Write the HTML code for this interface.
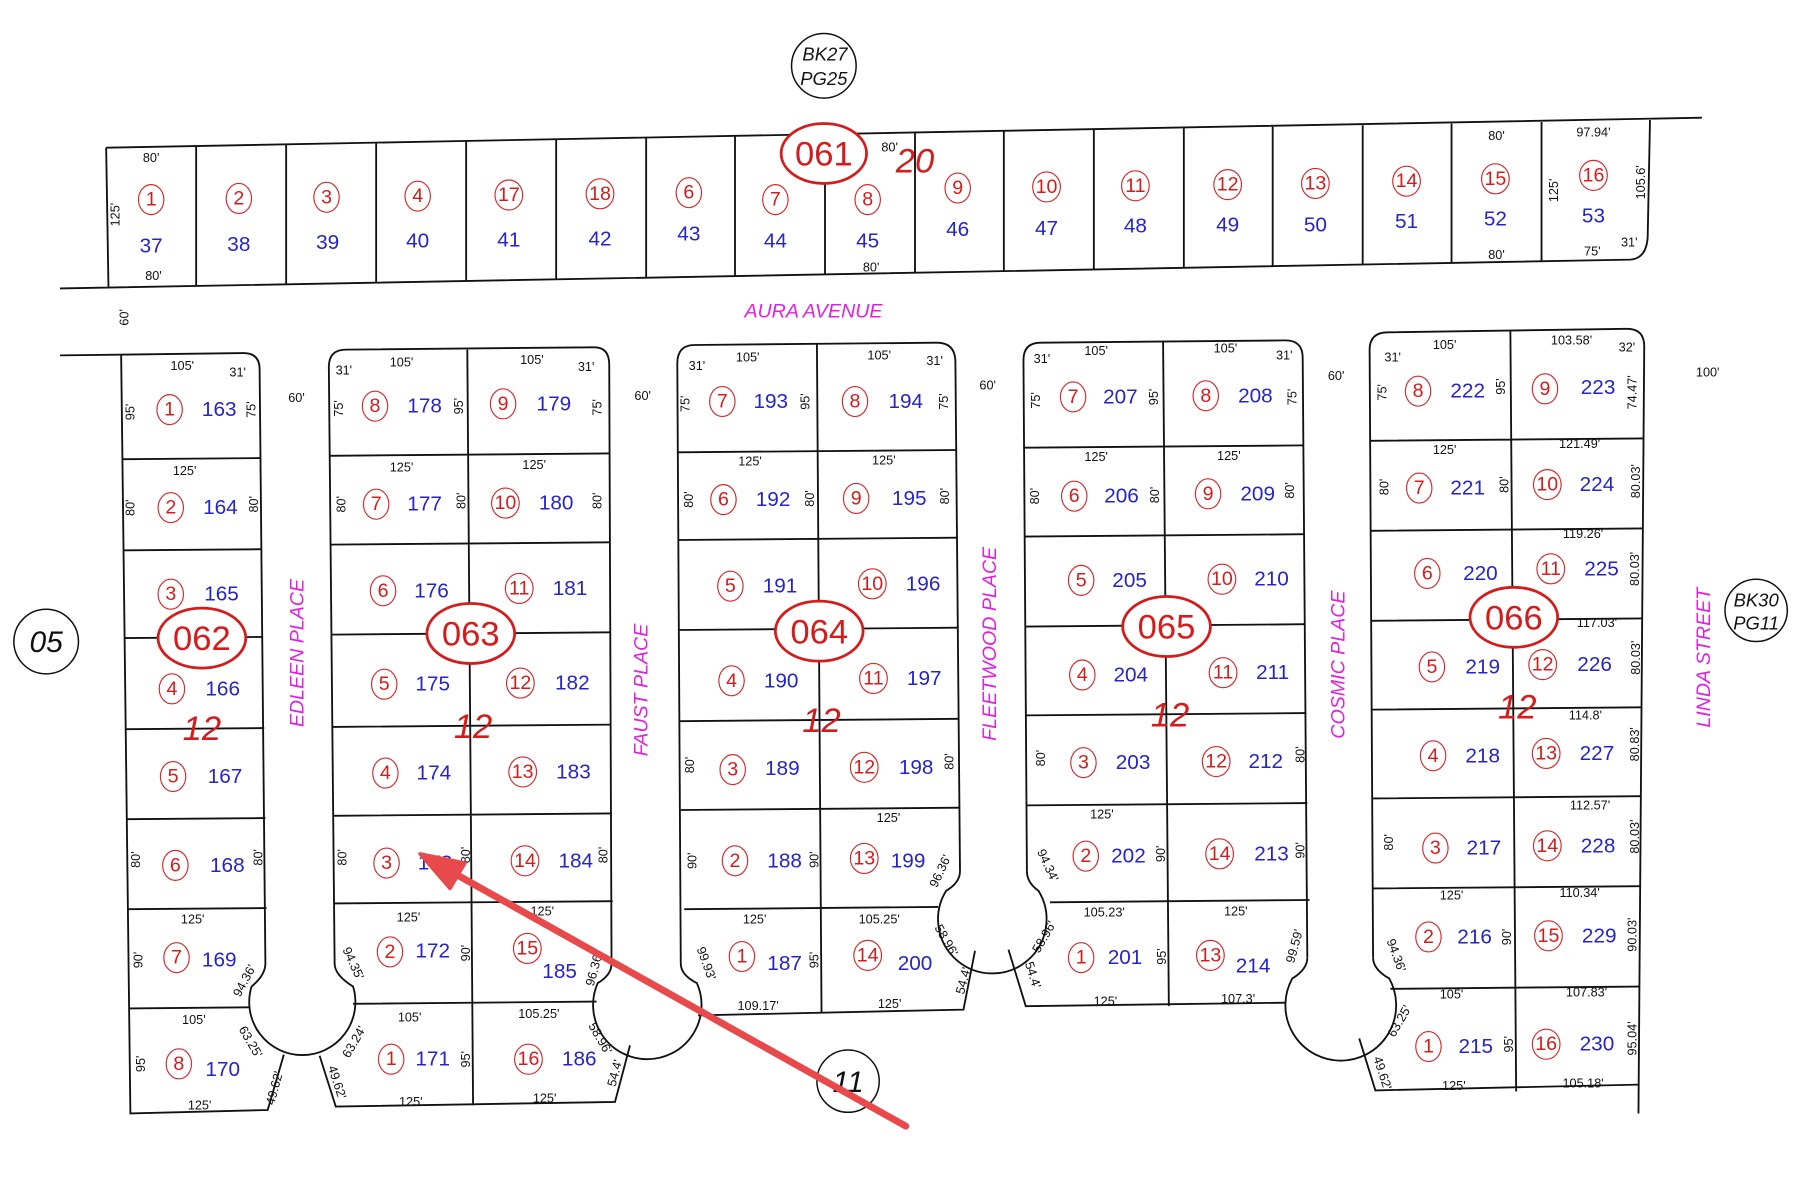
<!DOCTYPE html>
<html><head><meta charset="utf-8"><style>
html,body{margin:0;padding:0;background:#fff;}
svg{display:block}
text{font-family:"Liberation Sans",sans-serif;}
.l{fill:none;stroke:#111;stroke-width:1.6}
.c{fill:none;stroke:#d42a2a;stroke-width:1}
.r{fill:#d41c1c;font-size:17px;text-anchor:middle;dominant-baseline:central}
.b{fill:#2424c8;font-size:18px;text-anchor:middle;dominant-baseline:central}
.d{fill:#111;font-size:11px;text-anchor:middle;dominant-baseline:central}
.s{fill:#e020e0;font-size:17px;font-style:italic;text-anchor:middle;dominant-baseline:central}
.big{fill:#d41c1c;font-size:30px;text-anchor:middle;dominant-baseline:central}
.bc{fill:#fff;stroke:#d41c1c;stroke-width:2.4}
.tw{fill:#d41c1c;font-size:30px;font-style:italic;text-anchor:middle;dominant-baseline:central}
.k{fill:none;stroke:#111;stroke-width:1.3}
.kt{fill:#111;font-size:16px;font-style:italic;text-anchor:middle;dominant-baseline:central}
</style></head><body>
<svg width="1800" height="1200" viewBox="0 0 1560 1040" preserveAspectRatio="none" xmlns="http://www.w3.org/2000/svg">
<!-- top strip -->
<path class="l" d="M92,128 L1475,102 M52,250 L1413,225 Q1427,224 1428,205 L1430,104 M92,128 L94,249"/>
<path class="l" d="M170,126.6L170,247.9 M248,125.2L248,246.4 M326,123.8L326,245 M404,122.4L404,243.6 M482,121L482,242.2 M560,119.6L560,240.8 M637,118.2L637,239.4 M715,116.8L715,238 M793,115.4L793,236.5 M870,114L870,235.1 M948,112.6L948,233.7 M1026,111.2L1026,232.3 M1103,109.9L1103,230.9 M1181,108.5L1181,229.5 M1258,107.1L1258,228.1 M1336,105.7L1336,226.7"/>
<g>
<ellipse class="c" cx="131" cy="173" rx="11" ry="13"/><text class="r" x="131" y="173">1</text><text class="b" x="131" y="213">37</text>
<ellipse class="c" cx="207" cy="172" rx="11" ry="13"/><text class="r" x="207" y="172">2</text><text class="b" x="207" y="212">38</text>
<ellipse class="c" cx="283" cy="171" rx="11" ry="13"/><text class="r" x="283" y="171">3</text><text class="b" x="284" y="210">39</text>
<ellipse class="c" cx="362" cy="170" rx="11" ry="13"/><text class="r" x="362" y="170">4</text><text class="b" x="362" y="209">40</text>
<ellipse class="c" cx="441" cy="169" rx="12" ry="13"/><text class="r" x="441" y="169">17</text><text class="b" x="441" y="208">41</text>
<ellipse class="c" cx="520" cy="168" rx="12" ry="13"/><text class="r" x="520" y="168">18</text><text class="b" x="520" y="207">42</text>
<ellipse class="c" cx="597" cy="167" rx="11" ry="13"/><text class="r" x="597" y="167">6</text><text class="b" x="597" y="203">43</text>
<ellipse class="c" cx="672" cy="173" rx="11" ry="13"/><text class="r" x="672" y="173">7</text><text class="b" x="672" y="209">44</text>
<ellipse class="c" cx="752" cy="173" rx="11" ry="13"/><text class="r" x="752" y="173">8</text><text class="b" x="752" y="209">45</text>
<ellipse class="c" cx="830" cy="163" rx="11" ry="13"/><text class="r" x="830" y="163">9</text><text class="b" x="830" y="199">46</text>
<ellipse class="c" cx="907" cy="162" rx="12" ry="13"/><text class="r" x="907" y="162">10</text><text class="b" x="907" y="198">47</text>
<ellipse class="c" cx="984" cy="161" rx="12" ry="13"/><text class="r" x="984" y="161">11</text><text class="b" x="984" y="196">48</text>
<ellipse class="c" cx="1064" cy="160" rx="12" ry="13"/><text class="r" x="1064" y="160">12</text><text class="b" x="1064" y="195">49</text>
<ellipse class="c" cx="1140" cy="159" rx="12" ry="13"/><text class="r" x="1140" y="159">13</text><text class="b" x="1140" y="195">50</text>
<ellipse class="c" cx="1219" cy="157" rx="12" ry="13"/><text class="r" x="1219" y="157">14</text><text class="b" x="1219" y="192">51</text>
<ellipse class="c" cx="1296" cy="155" rx="12" ry="13"/><text class="r" x="1296" y="155">15</text><text class="b" x="1296" y="190">52</text>
<ellipse class="c" cx="1381" cy="152" rx="12" ry="13"/><text class="r" x="1381" y="152">16</text><text class="b" x="1381" y="187">53</text>
</g>
<text class="d" x="131" y="137">80'</text><text class="d" x="133" y="239">80'</text>
<text class="d" transform="translate(100,186) rotate(-90)">125'</text>
<text class="d" x="771" y="128">80'</text><text class="d" x="755" y="232">80'</text>
<text class="d" x="1297" y="118">80'</text><text class="d" x="1297" y="221">80'</text>
<text class="d" x="1381" y="115">97.94'</text>
<text class="d" transform="translate(1347,165) rotate(-90)">125'</text>
<text class="d" transform="translate(1422,158) rotate(-90)">105.6'</text>
<text class="d" x="1380" y="218">75'</text><text class="d" x="1412" y="210">31'</text>
<ellipse class="bc" cx="714" cy="133" rx="37" ry="26"/><text class="big" x="714" y="134">061</text>
<text class="tw" x="793" y="140">20</text>
<circle class="k" cx="714" cy="57" r="28"/><text class="kt" x="715" y="47">BK27</text><text class="kt" x="714" y="68">PG25</text>

<text class="s" x="705" y="270">AURA AVENUE</text>
<text class="d" transform="translate(108,275) rotate(-90)">60'</text>

<!-- blocks -->
<path class="l" d="M52,308 L211,306 Q225,306 225,320 L230,835 M105,308 L113,965 L232,962 L246,914"/>
<path class="l" d="M230,835 Q230,845 218,855 A46,46 0 1 0 306,855 Q290,845 290,835"/>
<path class="l" d="M106,398L226,397 M107,477L227,476 M108,553L228,552 M109,632L229,631 M110,710L230,709 M111,788L231,787 M112,874L216,873"/>

<path class="l" d="M290,835 L285,318 Q285,303 300,303 L515,301 Q528,301 528,316 L530,835"/>
<path class="l" d="M530,835 Q530,845 518,852 A47,47 0 1 0 604,852 Q590,845 590,835"/>
<path class="l" d="M405,303 L410,958 M286,395L528,393 M286,472L529,470 M287,550L529,548 M288,630L530,628 M289,707L530,705 M290,783L531,781 M306,870L517,868 M277,915 L291,959 L533,955 L546,906"/>

<path class="l" d="M590,835 L587,315 Q587,299 602,299 L812,297 Q827,297 828,312 L832,755"/>
<path class="l" d="M832,755 Q832,765 820,772 A47,47 0 1 0 900,772 Q890,765 890,755"/>
<path class="l" d="M708,298 L712,878 M588,392L829,390 M588,468L830,466 M589,546L830,544 M589,625L831,623 M590,702L832,700 M593,788L813,786 M605,880 L835,875 L845,824"/>

<path class="l" d="M890,755 L887,312 Q887,297 902,297 L1114,295 Q1129,295 1129,310 L1133,830"/>
<path class="l" d="M1133,830 Q1133,840 1120,848 A48,48 0 1 0 1204,848 Q1190,840 1190,830"/>
<path class="l" d="M1008,296 L1013,872 M888,388L1130,386 M888,465L1131,463 M889,543L1131,541 M889,620L1132,618 M890,698L1133,696 M910,782L1135,780 M874,823 L889,872 L1114,869"/>

<path class="l" d="M1190,830 L1187,303 Q1187,288 1203,288 L1410,285 Q1425,285 1425,300 L1420,965"/>
<path class="l" d="M1309,287 L1314,946 M1188,382L1424,380 M1188,460L1424,458 M1189,538L1423,536 M1189,615L1423,613 M1190,692L1422,690 M1190,770L1422,768 M1205,857L1421,855 M1178,900 L1192,945 L1420,940"/>

<!-- street labels -->
<text class="d" x="257" y="345">60'</text><text class="d" x="557" y="343">60'</text>
<text class="d" x="856" y="334">60'</text><text class="d" x="1158" y="326">60'</text><text class="d" x="1480" y="323">100'</text>
<text class="s" transform="translate(258,566) rotate(-90)">EDLEEN  PLACE</text>
<text class="s" transform="translate(556,598) rotate(-90)">FAUST  PLACE</text>
<text class="s" transform="translate(858,558) rotate(-90)">FLEETWOOD  PLACE</text>
<text class="s" transform="translate(1160,576) rotate(-90)">COSMIC  PLACE</text>
<text class="s" transform="translate(1477,570) rotate(-90)">LINDA    STREET</text>

<!-- block 062 -->
<g>
<text class="d" x="158" y="317">105'</text><text class="d" x="206" y="323">31'</text>
<text class="d" transform="translate(113,357) rotate(-90)">95'</text><text class="d" transform="translate(218,355) rotate(-90)">75'</text>
<ellipse class="c" cx="147" cy="355" rx="11" ry="13"/><text class="r" x="147" y="355">1</text><text class="b" x="190" y="355">163</text>
<text class="d" x="160" y="408">125'</text>
<text class="d" transform="translate(113,440) rotate(-90)">80'</text><text class="d" transform="translate(220,437) rotate(-90)">80'</text>
<ellipse class="c" cx="148" cy="440" rx="11" ry="13"/><text class="r" x="148" y="440">2</text><text class="b" x="191" y="440">164</text>
<ellipse class="c" cx="148" cy="515" rx="11" ry="13"/><text class="r" x="148" y="515">3</text><text class="b" x="192" y="515">165</text>
<ellipse class="c" cx="149" cy="597" rx="11" ry="13"/><text class="r" x="149" y="597">4</text><text class="b" x="193" y="597">166</text>
<ellipse class="c" cx="150" cy="673" rx="11" ry="13"/><text class="r" x="150" y="673">5</text><text class="b" x="195" y="673">167</text>
<text class="d" transform="translate(118,745) rotate(-90)">80'</text><text class="d" transform="translate(224,743) rotate(-90)">80'</text>
<ellipse class="c" cx="152" cy="750" rx="11" ry="13"/><text class="r" x="152" y="750">6</text><text class="b" x="197" y="750">168</text>
<text class="d" x="167" y="797">125'</text>
<text class="d" transform="translate(120,832) rotate(-90)">90'</text>
<ellipse class="c" cx="153" cy="830" rx="11" ry="13"/><text class="r" x="153" y="830">7</text><text class="b" x="190" y="832">169</text>
<text class="d" transform="translate(212,850) rotate(-62)">94.36'</text>
<text class="d" x="168" y="884">105'</text>
<text class="d" transform="translate(122,922) rotate(-90)">95'</text>
<ellipse class="c" cx="155" cy="922" rx="11" ry="13"/><text class="r" x="155" y="922">8</text><text class="b" x="193" y="927">170</text>
<text class="d" transform="translate(217,903) rotate(60)">63.25'</text>
<text class="d" transform="translate(238,943) rotate(-75)">49.62'</text>
<text class="d" x="173" y="958">125'</text>
<ellipse class="bc" cx="175" cy="553" rx="38" ry="26"/><text class="big" x="175" y="554">062</text>
<text class="tw" x="175" y="632">12</text>
</g>

<!-- block 063 -->
<g>
<text class="d" x="298" y="321">31'</text><text class="d" x="348" y="314">105'</text>
<text class="d" transform="translate(294,354) rotate(-90)">75'</text><text class="d" transform="translate(398,352) rotate(-90)">95'</text>
<ellipse class="c" cx="325" cy="352" rx="11" ry="13"/><text class="r" x="325" y="352">8</text><text class="b" x="368" y="352">178</text>
<text class="d" x="461" y="312">105'</text><text class="d" x="508" y="318">31'</text>
<text class="d" transform="translate(518,353) rotate(-90)">75'</text>
<ellipse class="c" cx="436" cy="350" rx="11" ry="13"/><text class="r" x="436" y="350">9</text><text class="b" x="480" y="350">179</text>
<text class="d" x="348" y="405">125'</text><text class="d" x="463" y="403">125'</text>
<text class="d" transform="translate(296,437) rotate(-90)">80'</text><text class="d" transform="translate(400,434) rotate(-90)">80'</text><text class="d" transform="translate(518,434) rotate(-90)">80'</text>
<ellipse class="c" cx="326" cy="437" rx="11" ry="13"/><text class="r" x="326" y="437">7</text><text class="b" x="368" y="437">177</text>
<ellipse class="c" cx="438" cy="436" rx="12" ry="13"/><text class="r" x="438" y="436">10</text><text class="b" x="482" y="436">180</text>
<ellipse class="c" cx="332" cy="512" rx="11" ry="13"/><text class="r" x="332" y="512">6</text><text class="b" x="374" y="512">176</text>
<ellipse class="c" cx="450" cy="510" rx="12" ry="13"/><text class="r" x="450" y="510">11</text><text class="b" x="494" y="510">181</text>
<ellipse class="c" cx="333" cy="593" rx="11" ry="13"/><text class="r" x="333" y="593">5</text><text class="b" x="375" y="593">175</text>
<ellipse class="c" cx="451" cy="592" rx="12" ry="13"/><text class="r" x="451" y="592">12</text><text class="b" x="496" y="592">182</text>
<ellipse class="c" cx="334" cy="670" rx="11" ry="13"/><text class="r" x="334" y="670">4</text><text class="b" x="376" y="670">174</text>
<ellipse class="c" cx="453" cy="669" rx="12" ry="13"/><text class="r" x="453" y="669">13</text><text class="b" x="497" y="669">183</text>
<text class="d" transform="translate(297,743) rotate(-90)">80'</text><text class="d" transform="translate(404,741) rotate(-90)">80'</text><text class="d" transform="translate(523,741) rotate(-90)">80'</text>
<ellipse class="c" cx="335" cy="748" rx="11" ry="13"/><text class="r" x="335" y="748">3</text><text class="b" x="377" y="748">173</text>
<ellipse class="c" cx="455" cy="746" rx="12" ry="13"/><text class="r" x="455" y="746">14</text><text class="b" x="499" y="746">184</text>
<text class="d" x="354" y="795">125'</text><text class="d" x="470" y="790">125'</text>
<text class="d" transform="translate(306,835) rotate(65)">94.35'</text><text class="d" transform="translate(404,826) rotate(-90)">90'</text>
<ellipse class="c" cx="338" cy="825" rx="11" ry="13"/><text class="r" x="338" y="825">2</text><text class="b" x="375" y="824">172</text>
<ellipse class="c" cx="457" cy="822" rx="12" ry="13"/><text class="r" x="457" y="822">15</text><text class="b" x="485" y="842">185</text>
<text class="d" transform="translate(515,840) rotate(-75)">96.36'</text>
<text class="d" x="355" y="882">105'</text><text class="d" x="467" y="879">105.25'</text>
<text class="d" transform="translate(307,903) rotate(-60)">63.24'</text><text class="d" transform="translate(404,918) rotate(-90)">95'</text>
<ellipse class="c" cx="339" cy="918" rx="11" ry="13"/><text class="r" x="339" y="918">1</text><text class="b" x="375" y="918">171</text>
<ellipse class="c" cx="458" cy="918" rx="12" ry="13"/><text class="r" x="458" y="918">16</text><text class="b" x="502" y="918">186</text>
<text class="d" transform="translate(292,938) rotate(72)">49.62'</text>
<text class="d" transform="translate(520,900) rotate(60)">58.96'</text>
<text class="d" transform="translate(533,930) rotate(-75)">54.4'</text>
<text class="d" x="356" y="955">125'</text><text class="d" x="472" y="952">125'</text>
<ellipse class="bc" cx="408" cy="549" rx="38" ry="26"/><text class="big" x="408" y="550">063</text>
<text class="tw" x="410" y="630">12</text>
</g>

<!-- block 064 -->
<g>
<text class="d" x="604" y="317">31'</text><text class="d" x="648" y="310">105'</text>
<text class="d" transform="translate(594,350) rotate(-90)">75'</text><text class="d" transform="translate(698,348) rotate(-90)">95'</text>
<ellipse class="c" cx="626" cy="348" rx="11" ry="13"/><text class="r" x="626" y="348">7</text><text class="b" x="668" y="348">193</text>
<text class="d" x="762" y="308">105'</text><text class="d" x="810" y="313">31'</text>
<text class="d" transform="translate(818,348) rotate(-90)">75'</text>
<ellipse class="c" cx="741" cy="348" rx="11" ry="13"/><text class="r" x="741" y="348">8</text><text class="b" x="785" y="348">194</text>
<text class="d" x="650" y="400">125'</text><text class="d" x="766" y="399">125'</text>
<text class="d" transform="translate(597,433) rotate(-90)">80'</text><text class="d" transform="translate(702,432) rotate(-90)">80'</text><text class="d" transform="translate(819,430) rotate(-90)">80'</text>
<ellipse class="c" cx="627" cy="433" rx="11" ry="13"/><text class="r" x="627" y="433">6</text><text class="b" x="670" y="433">192</text>
<ellipse class="c" cx="742" cy="432" rx="11" ry="13"/><text class="r" x="742" y="432">9</text><text class="b" x="788" y="432">195</text>
<ellipse class="c" cx="633" cy="508" rx="11" ry="13"/><text class="r" x="633" y="508">5</text><text class="b" x="676" y="508">191</text>
<ellipse class="c" cx="756" cy="506" rx="12" ry="13"/><text class="r" x="756" y="506">10</text><text class="b" x="800" y="506">196</text>
<ellipse class="c" cx="634" cy="590" rx="11" ry="13"/><text class="r" x="634" y="590">4</text><text class="b" x="677" y="590">190</text>
<ellipse class="c" cx="757" cy="588" rx="12" ry="13"/><text class="r" x="757" y="588">11</text><text class="b" x="801" y="588">197</text>
<text class="d" transform="translate(598,663) rotate(-90)">80'</text><text class="d" transform="translate(823,660) rotate(-90)">80'</text>
<ellipse class="c" cx="635" cy="667" rx="11" ry="13"/><text class="r" x="635" y="667">3</text><text class="b" x="678" y="666">189</text>
<ellipse class="c" cx="749" cy="665" rx="12" ry="13"/><text class="r" x="749" y="665">12</text><text class="b" x="794" y="665">198</text>
<text class="d" x="770" y="709">125'</text>
<text class="d" transform="translate(600,746) rotate(-90)">90'</text><text class="d" transform="translate(706,745) rotate(-90)">90'</text>
<ellipse class="c" cx="637" cy="746" rx="11" ry="13"/><text class="r" x="637" y="746">2</text><text class="b" x="680" y="746">188</text>
<ellipse class="c" cx="749" cy="744" rx="12" ry="13"/><text class="r" x="749" y="744">13</text><text class="b" x="787" y="746">199</text>
<text class="d" transform="translate(815,755) rotate(-65)">96.36'</text>
<text class="d" x="654" y="797">125'</text><text class="d" x="762" y="797">105.25'</text>
<text class="d" transform="translate(612,835) rotate(70)">99.93'</text><text class="d" transform="translate(706,832) rotate(-90)">95'</text>
<ellipse class="c" cx="643" cy="829" rx="11" ry="13"/><text class="r" x="643" y="829">1</text><text class="b" x="680" y="835">187</text>
<ellipse class="c" cx="752" cy="828" rx="12" ry="13"/><text class="r" x="752" y="828">14</text><text class="b" x="793" y="835">200</text>
<text class="d" transform="translate(820,815) rotate(60)">58.96'</text><text class="d" transform="translate(835,850) rotate(-75)">54.4'</text>
<text class="d" x="657" y="872">109.17'</text><text class="d" x="771" y="870">125'</text>
<ellipse class="bc" cx="710" cy="547" rx="38" ry="26"/><text class="big" x="710" y="548">064</text>
<text class="tw" x="712" y="625">12</text>
</g>

<!-- block 065 -->
<g>
<text class="d" x="903" y="311">31'</text><text class="d" x="950" y="304">105'</text>
<text class="d" transform="translate(898,347) rotate(-90)">75'</text><text class="d" transform="translate(1000,344) rotate(-90)">95'</text>
<ellipse class="c" cx="930" cy="344" rx="11" ry="13"/><text class="r" x="930" y="344">7</text><text class="b" x="971" y="344">207</text>
<text class="d" x="1062" y="302">105'</text><text class="d" x="1113" y="308">31'</text>
<text class="d" transform="translate(1120,344) rotate(-90)">75'</text>
<ellipse class="c" cx="1045" cy="343" rx="11" ry="13"/><text class="r" x="1045" y="343">8</text><text class="b" x="1088" y="343">208</text>
<text class="d" x="950" y="396">125'</text><text class="d" x="1065" y="395">125'</text>
<text class="d" transform="translate(897,430) rotate(-90)">80'</text><text class="d" transform="translate(1001,429) rotate(-90)">80'</text><text class="d" transform="translate(1118,425) rotate(-90)">80'</text>
<ellipse class="c" cx="931" cy="430" rx="11" ry="13"/><text class="r" x="931" y="430">6</text><text class="b" x="972" y="430">206</text>
<ellipse class="c" cx="1047" cy="428" rx="11" ry="13"/><text class="r" x="1047" y="428">9</text><text class="b" x="1090" y="428">209</text>
<ellipse class="c" cx="937" cy="503" rx="11" ry="13"/><text class="r" x="937" y="503">5</text><text class="b" x="979" y="503">205</text>
<ellipse class="c" cx="1059" cy="502" rx="12" ry="13"/><text class="r" x="1059" y="502">10</text><text class="b" x="1102" y="502">210</text>
<ellipse class="c" cx="938" cy="585" rx="11" ry="13"/><text class="r" x="938" y="585">4</text><text class="b" x="980" y="585">204</text>
<ellipse class="c" cx="1060" cy="583" rx="12" ry="13"/><text class="r" x="1060" y="583">11</text><text class="b" x="1103" y="583">211</text>
<text class="d" transform="translate(902,657) rotate(-90)">80'</text><text class="d" transform="translate(1127,654) rotate(-90)">80'</text>
<ellipse class="c" cx="939" cy="661" rx="11" ry="13"/><text class="r" x="939" y="661">3</text><text class="b" x="982" y="661">203</text>
<ellipse class="c" cx="1054" cy="660" rx="12" ry="13"/><text class="r" x="1054" y="660">12</text><text class="b" x="1097" y="660">212</text>
<text class="d" x="955" y="706">125'</text>
<text class="d" transform="translate(908,750) rotate(65)">94.34'</text><text class="d" transform="translate(1006,740) rotate(-90)">90'</text><text class="d" transform="translate(1127,737) rotate(-90)">90'</text>
<ellipse class="c" cx="941" cy="742" rx="11" ry="13"/><text class="r" x="941" y="742">2</text><text class="b" x="978" y="742">202</text>
<ellipse class="c" cx="1057" cy="740" rx="12" ry="13"/><text class="r" x="1057" y="740">14</text><text class="b" x="1102" y="740">213</text>
<text class="d" x="957" y="791">105.23'</text><text class="d" x="1071" y="790">125'</text>
<text class="d" transform="translate(905,812) rotate(-60)">58.96'</text><text class="d" transform="translate(895,845) rotate(72)">54.4'</text>
<text class="d" transform="translate(1007,829) rotate(-90)">95'</text>
<ellipse class="c" cx="937" cy="830" rx="11" ry="13"/><text class="r" x="937" y="830">1</text><text class="b" x="975" y="830">201</text>
<ellipse class="c" cx="1049" cy="828" rx="12" ry="13"/><text class="r" x="1049" y="828">13</text><text class="b" x="1086" y="837">214</text>
<text class="d" transform="translate(1122,820) rotate(-75)">99.59'</text>
<text class="d" x="958" y="868">125'</text><text class="d" x="1073" y="866">107.3'</text>
<ellipse class="bc" cx="1011" cy="543" rx="38" ry="26"/><text class="big" x="1011" y="544">065</text>
<text class="tw" x="1014" y="620">12</text>
</g>

<!-- block 066 -->
<g>
<text class="d" x="1207" y="310">31'</text><text class="d" x="1252" y="299">105'</text>
<text class="d" transform="translate(1198,340) rotate(-90)">75'</text><text class="d" transform="translate(1301,335) rotate(-90)">95'</text>
<ellipse class="c" cx="1229" cy="339" rx="11" ry="13"/><text class="r" x="1229" y="339">8</text><text class="b" x="1272" y="339">222</text>
<text class="d" x="1362" y="295">103.58'</text><text class="d" x="1410" y="301">32'</text>
<text class="d" transform="translate(1415,340) rotate(-90)">74.47'</text>
<ellipse class="c" cx="1339" cy="337" rx="11" ry="13"/><text class="r" x="1339" y="337">9</text><text class="b" x="1385" y="336">223</text>
<text class="d" x="1252" y="390">125'</text><text class="d" x="1369" y="385">121.49'</text>
<text class="d" transform="translate(1200,422) rotate(-90)">80'</text><text class="d" transform="translate(1304,420) rotate(-90)">80'</text><text class="d" transform="translate(1418,417) rotate(-90)">80.03'</text>
<ellipse class="c" cx="1230" cy="423" rx="11" ry="13"/><text class="r" x="1230" y="423">7</text><text class="b" x="1272" y="423">221</text>
<ellipse class="c" cx="1341" cy="420" rx="12" ry="13"/><text class="r" x="1341" y="420">10</text><text class="b" x="1384" y="420">224</text>
<text class="d" x="1372" y="463">119.26'</text>
<ellipse class="c" cx="1237" cy="497" rx="11" ry="13"/><text class="r" x="1237" y="497">6</text><text class="b" x="1283" y="497">220</text>
<ellipse class="c" cx="1344" cy="493" rx="12" ry="13"/><text class="r" x="1344" y="493">11</text><text class="b" x="1388" y="493">225</text>
<text class="d" transform="translate(1417,493) rotate(-90)">80.03'</text>
<text class="d" x="1384" y="540">117.03'</text>
<ellipse class="c" cx="1241" cy="578" rx="11" ry="13"/><text class="r" x="1241" y="578">5</text><text class="b" x="1285" y="578">219</text>
<ellipse class="c" cx="1337" cy="576" rx="12" ry="13"/><text class="r" x="1337" y="576">12</text><text class="b" x="1382" y="576">226</text>
<text class="d" transform="translate(1418,570) rotate(-90)">80.03'</text>
<text class="d" x="1374" y="620">114.8'</text>
<ellipse class="c" cx="1242" cy="655" rx="11" ry="13"/><text class="r" x="1242" y="655">4</text><text class="b" x="1285" y="655">218</text>
<ellipse class="c" cx="1340" cy="653" rx="12" ry="13"/><text class="r" x="1340" y="653">13</text><text class="b" x="1384" y="653">227</text>
<text class="d" transform="translate(1417,645) rotate(-90)">80.83'</text>
<text class="d" x="1378" y="698">112.57'</text>
<text class="d" transform="translate(1204,730) rotate(-90)">80'</text>
<ellipse class="c" cx="1244" cy="735" rx="11" ry="13"/><text class="r" x="1244" y="735">3</text><text class="b" x="1286" y="735">217</text>
<ellipse class="c" cx="1341" cy="733" rx="12" ry="13"/><text class="r" x="1341" y="733">14</text><text class="b" x="1385" y="733">228</text>
<text class="d" transform="translate(1417,725) rotate(-90)">80.03'</text>
<text class="d" x="1258" y="776">125'</text><text class="d" x="1369" y="774">110.34'</text>
<text class="d" transform="translate(1210,828) rotate(70)">94.36'</text><text class="d" transform="translate(1306,812) rotate(-90)">90'</text>
<ellipse class="c" cx="1238" cy="812" rx="11" ry="13"/><text class="r" x="1238" y="812">2</text><text class="b" x="1278" y="812">216</text>
<ellipse class="c" cx="1342" cy="811" rx="12" ry="13"/><text class="r" x="1342" y="811">15</text><text class="b" x="1386" y="811">229</text>
<text class="d" transform="translate(1415,810) rotate(-90)">90.03'</text>
<text class="d" x="1258" y="862">105'</text><text class="d" x="1375" y="860">107.83'</text>
<text class="d" transform="translate(1213,885) rotate(-60)">63.25'</text><text class="d" transform="translate(1308,905) rotate(-90)">95'</text>
<ellipse class="c" cx="1238" cy="907" rx="11" ry="13"/><text class="r" x="1238" y="907">1</text><text class="b" x="1279" y="907">215</text>
<ellipse class="c" cx="1340" cy="905" rx="12" ry="13"/><text class="r" x="1340" y="905">16</text><text class="b" x="1384" y="905">230</text>
<text class="d" transform="translate(1415,900) rotate(-90)">95.04'</text>
<text class="d" transform="translate(1198,930) rotate(72)">49.62'</text>
<text class="d" x="1260" y="941">125'</text><text class="d" x="1372" y="939">105.18'</text>
<ellipse class="bc" cx="1312" cy="535" rx="38" ry="26"/><text class="big" x="1312" y="536">066</text>
<text class="tw" x="1315" y="613">12</text>
</g>

<circle class="k" cx="40" cy="556" r="28"/><text class="kt" x="40" y="557" style="font-size:26px">05</text>
<circle class="k" cx="1522" cy="529" r="27"/><text class="kt" x="1522" y="520">BK30</text><text class="kt" x="1522" y="540">PG11</text>
<circle class="k" cx="735" cy="937" r="27"/><text class="kt" x="735" y="938" style="font-size:26px">11</text>

<!-- arrow -->
<line x1="785" y1="976" x2="385" y2="752" stroke="#e8494a" stroke-width="6" stroke-linecap="round"/>
<polygon points="364,740 403,748 390,770" fill="#e8494a" stroke="#e8494a" stroke-width="3" stroke-linejoin="round"/>
</svg>
</body></html>
